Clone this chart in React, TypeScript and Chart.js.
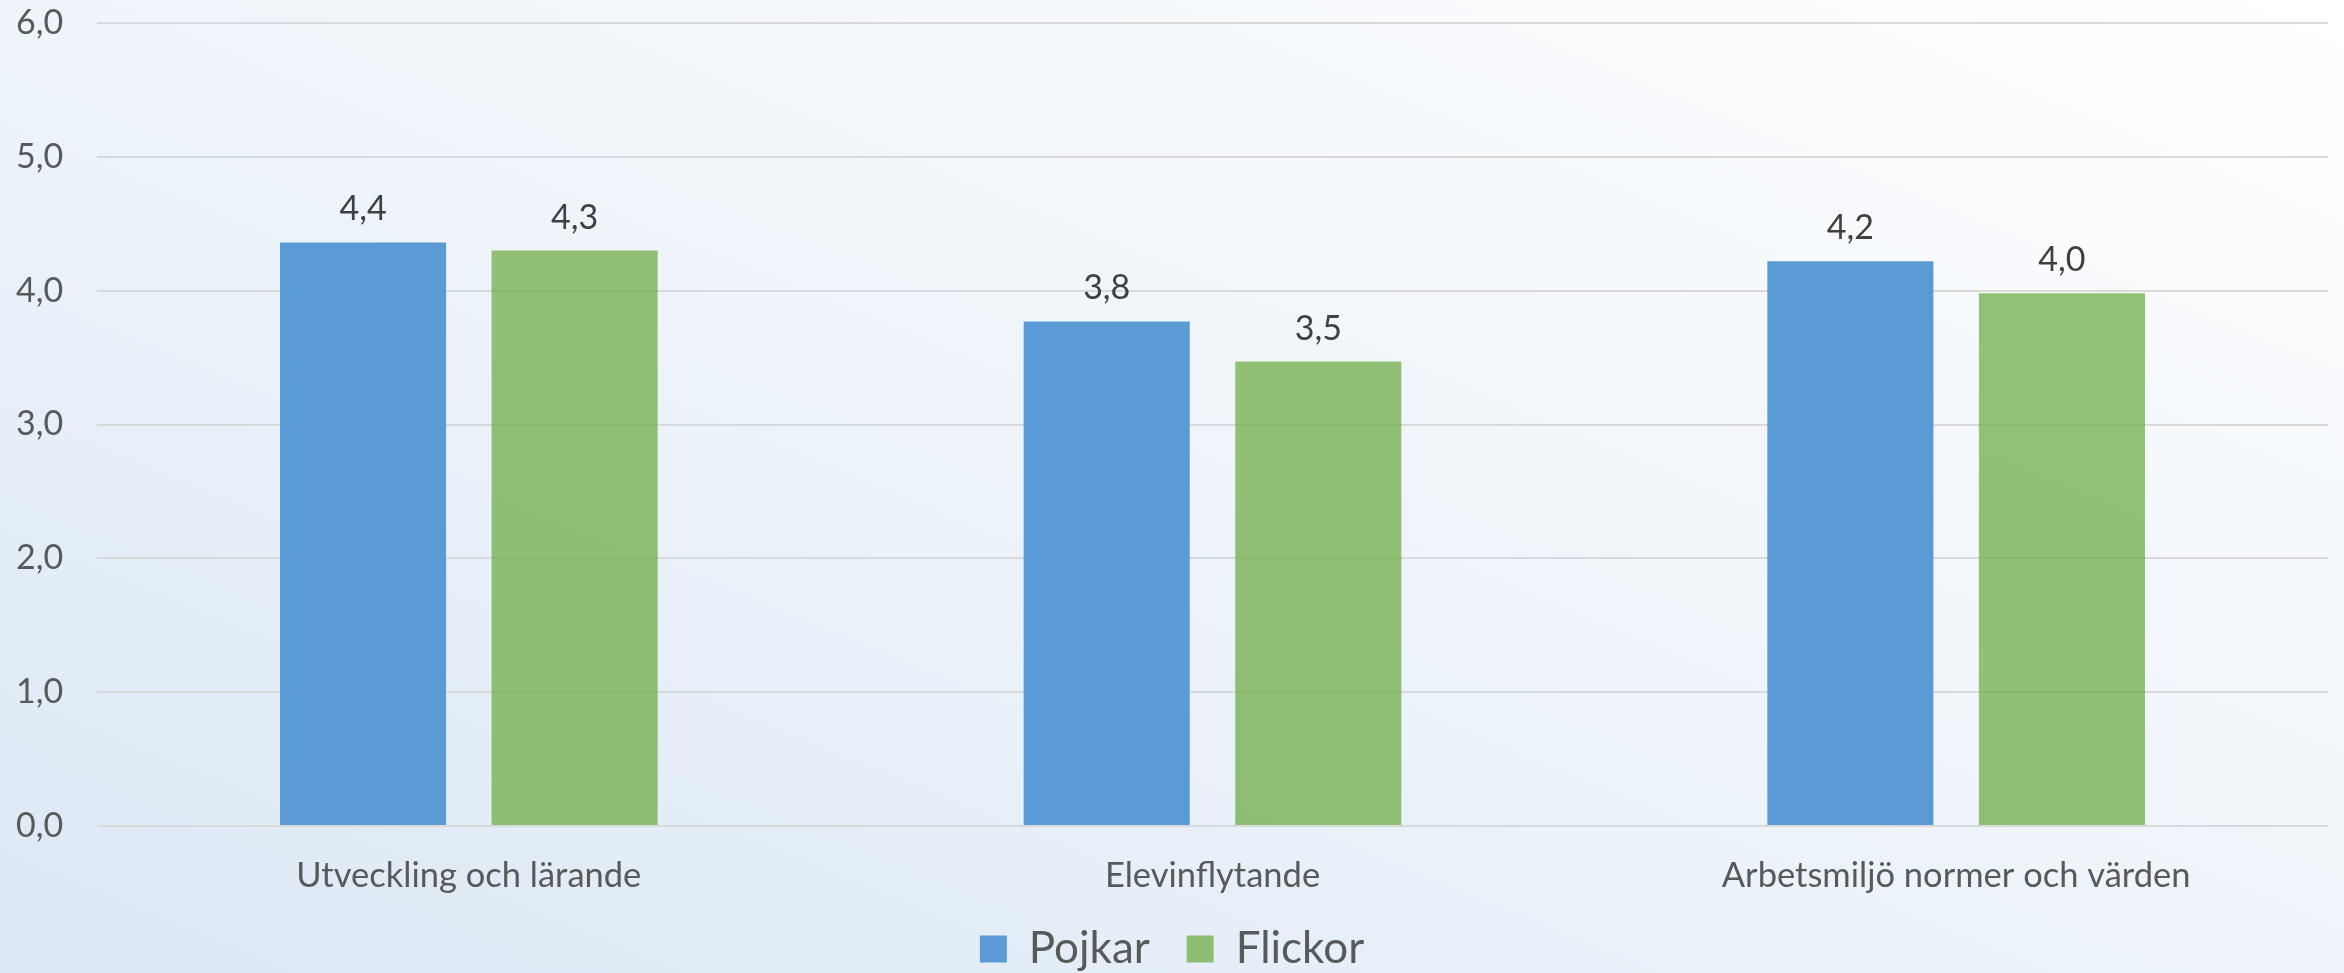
import React, { useEffect, useRef } from "react";
import { Chart, registerables } from "chart.js";

Chart.register(...registerables);

const categories = ["Utveckling och lärande", "Elevinflytande", "Arbetsmiljö normer och värden"];
const pojkar = [4.36, 3.77, 4.22];
const flickor = [4.3, 3.47, 3.98];
const yTicks = [0, 1, 2, 3, 4, 5, 6];
const seriesNames = ["Pojkar", "Flickor"];

const FONT = "Lato, 'Open Sans', sans-serif";
const fmt = (v: number) => v.toFixed(1).replace(".", ",");

const dataLabels = {
  id: "dataLabels",
  afterDatasetsDraw(chart: any) {
    const ctx = chart.ctx;
    ctx.save();
    ctx.font = `34px ${FONT}`;
    ctx.fillStyle = "#404040";
    ctx.textAlign = "center";
    ctx.textBaseline = "alphabetic";
    chart.data.datasets.forEach((ds: any, i: number) => {
      const meta = chart.getDatasetMeta(i);
      meta.data.forEach((bar: any, j: number) => {
        ctx.fillText(fmt(ds.data[j]), bar.x, bar.y - 22);
      });
    });
    ctx.restore();
  },
};

export default function App() {
  const ref = useRef<HTMLCanvasElement | null>(null);
  useEffect(() => {
    document.body.style.margin = "0";
    const chart = new Chart(ref.current as HTMLCanvasElement, {
      type: "bar",
      data: {
        labels: categories,
        datasets: [
          {
            label: seriesNames[0],
            data: pojkar,
            backgroundColor: "#5B9BD5",
            categoryPercentage: 0.569,
            barPercentage: 0.785,
          },
          {
            label: seriesNames[1],
            data: flickor,
            backgroundColor: "rgba(112,173,71,0.75)",
            categoryPercentage: 0.569,
            barPercentage: 0.785,
          },
        ],
      },
      options: {
        animation: false,
        responsive: false,
        maintainAspectRatio: false,
        layout: { padding: { top: 23, right: 16, bottom: -8, left: 16 } },
        plugins: {
          tooltip: { enabled: false },
          legend: {
            position: "bottom",
            labels: {
              font: { family: FONT, size: 44 },
              color: "#595959",
              boxWidth: 27,
              boxHeight: 27,
              padding: 3,
              generateLabels: (c: any) => {
                const items = Chart.defaults.plugins.legend.labels.generateLabels(c);
                items.forEach((it: any, i: number) => {
                  if (i < items.length - 1) it.text = it.text + "   ";
                });
                return items;
              },
            },
          },
        },
        scales: {
          x: {
            grid: { display: false, drawTicks: false },
            border: { display: false },
            ticks: {
              font: { family: FONT, size: 34.5 },
              color: "#595959",
              padding: 29,
              maxRotation: 0,
            },
            afterFit: (s: any) => {
              s.height = 98;
            },
          },
          y: {
            min: 0,
            max: 6,
            afterBuildTicks: (s: any) => {
              s.ticks = yTicks.map((v) => ({ value: v }));
            },
            grid: { color: "#D9D9D9", lineWidth: 2, drawTicks: false },
            border: { display: false },
            ticks: {
              font: { family: FONT, size: 34 },
              color: "#595959",
              padding: 0,
              crossAlign: "far",
              callback: (v: any) => fmt(Number(v)),
            },
            afterFit: (s: any) => {
              s.width = 81;
            },
          },
        },
      },
      plugins: [dataLabels],
    });
    return () => chart.destroy();
  }, []);
  return (
    <div
      style={{
        width: 2344,
        height: 973,
        background: "linear-gradient(to top right, #DCE8F5 0%, #EEF4FA 50%, #FFFFFF 100%)",
      }}
    >
      <canvas ref={ref} width={2344} height={973} style={{ display: "block" }} />
    </div>
  );
}
